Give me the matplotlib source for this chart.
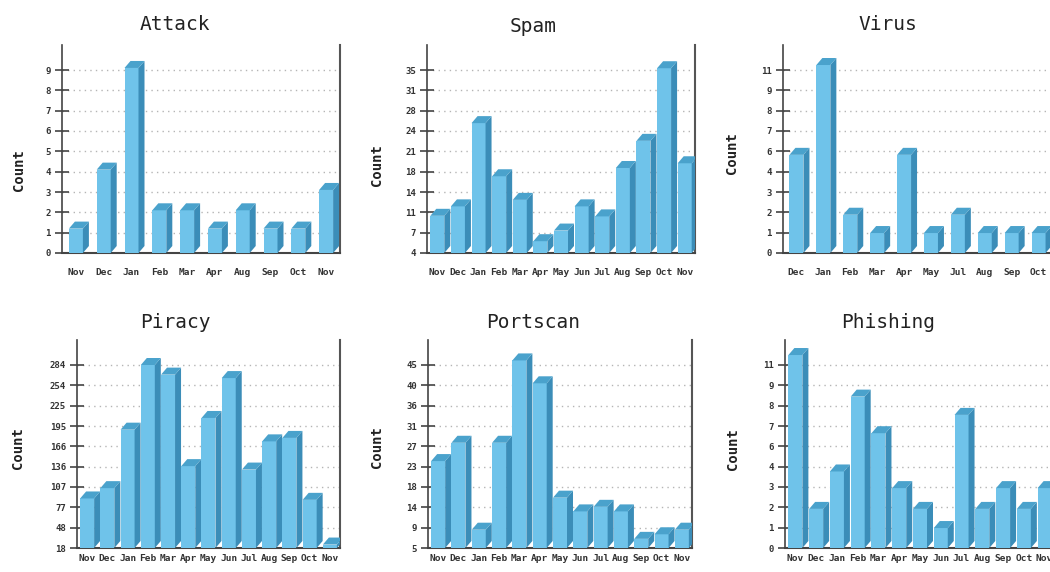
import numpy as np
import matplotlib
matplotlib.use("Agg")
import matplotlib.pyplot as plt
from matplotlib.patches import Polygon

W, H = 1050, 572

# ---------------- data ----------------
attack_months = ["Nov", "Dec", "Jan", "Feb", "Mar", "Apr", "Aug", "Sep", "Oct", "Nov"]
attack_values = [1.2, 4.1, 9.1, 2.1, 2.1, 1.2, 2.1, 1.2, 1.2, 3.1]
attack_ticks = ["0", "1", "2", "3", "4", "5", "6", "7", "8", "9"]

spam_months = ["Nov", "Dec", "Jan", "Feb", "Mar", "Apr", "May", "Jun", "Jul", "Aug", "Sep", "Oct", "Nov"]
spam_values = [10.3, 11.9, 26.0, 17.0, 13.0, 6.0, 7.8, 11.9, 10.2, 18.4, 23.0, 35.3, 19.2]
spam_ticks = ["4", "7", "11", "14", "18", "21", "24", "28", "31", "35"]

virus_months = ["Dec", "Jan", "Feb", "Mar", "Apr", "May", "Jul", "Aug", "Sep", "Oct"]
virus_values = [5.9, 11.3, 2.3, 1.2, 5.9, 1.2, 2.3, 1.2, 1.2, 1.2]
virus_ticks = ["0", "1", "2", "3", "4", "6", "7", "8", "9", "11"]

piracy_months = ["Nov", "Dec", "Jan", "Feb", "Mar", "Apr", "May", "Jun", "Jul", "Aug", "Sep", "Oct", "Nov"]
piracy_values = [90, 105, 190, 284, 270, 137, 207, 265, 132, 173, 178, 88, 23]
piracy_ticks = ["18", "48", "77", "107", "136", "166", "195", "225", "254", "284"]

portscan_months = ["Nov", "Dec", "Jan", "Feb", "Mar", "Apr", "May", "Jun", "Jul", "Aug", "Sep", "Oct", "Nov"]
portscan_values = [24, 28, 9, 28, 46, 41, 16, 13, 14, 13, 7, 8, 9]
portscan_ticks = ["5", "9", "14", "18", "23", "27", "31", "36", "40", "45"]

phishing_months = ["Nov", "Dec", "Jan", "Feb", "Mar", "Apr", "May", "Jun", "Jul", "Aug", "Sep", "Oct", "Nov"]
phishing_values = [11.6, 2.35, 4.6, 9.1, 6.9, 3.6, 2.35, 1.2, 8.0, 2.35, 3.6, 2.35, 3.6]
phishing_ticks = ["0", "1", "2", "3", "4", "6", "7", "8", "9", "11"]

# ---------------- style ----------------
FRONT = "#6fc3ea"
SIDE = "#3b8db8"
TOP = "#4aa2cc"
MONO = "DejaVu Sans Mono"

fig = plt.figure(figsize=(W / 100, H / 100), dpi=100)
fig.patch.set_facecolor("white")


def panel(box, title, title_xy, ylabel_xy, months, values, tick_labels, vmin, vmax, xpad):
    left, right, top, bottom = box
    ax = fig.add_axes([left / W, 1 - bottom / H, (right - left) / W, (bottom - top) / H])
    n = len(values)
    tick_span = 183.0
    ymax = vmin + (vmax - vmin) * (bottom - top) / tick_span
    ax.set_xlim(-0.5, n - 0.5)
    ax.set_ylim(vmin, ymax)
    ticks = np.linspace(vmin, vmax, len(tick_labels))
    ax.set_yticks(ticks)
    ax.set_yticklabels(tick_labels, fontsize=6.5, family=MONO, fontweight="bold", color="#333333")
    ax.set_xticks(np.arange(n))
    ax.set_xticklabels(months, fontsize=6.8, family=MONO, fontweight="bold", color="#333333")
    ax.tick_params(axis="x", length=0, pad=xpad)
    ax.tick_params(axis="y", direction="inout", length=10, width=1.2, color="#444444", pad=3)
    for t in ticks[1:]:
        ax.axhline(t, color="#b5b5b5", lw=1.0, ls=(0, (1, 3)), zorder=0)
    ax.spines["top"].set_visible(False)
    ax.spines["left"].set_color("#444444")
    ax.spines["right"].set_color("#555555")
    ax.spines["bottom"].set_color("#444444")
    ax.spines["left"].set_linewidth(1.2)
    ax.spines["right"].set_linewidth(1.5)
    ax.spines["bottom"].set_linewidth(1.5)

    pxx = (right - left) / n
    pxy = (bottom - top) / (ymax - vmin)
    w = 14.0 / pxx
    dx = 6.0 / pxx
    dy = 7.0 / pxy
    for i, v in enumerate(values):
        ax.bar(i, v - vmin, bottom=vmin, width=w, color=FRONT, edgecolor="none", zorder=3)
        xr = i + w / 2
        xl = i - w / 2
        side = Polygon([(xr, vmin), (xr + dx, vmin + dy), (xr + dx, v + dy), (xr, v)],
                       closed=True, facecolor=SIDE, edgecolor="none", zorder=3)
        cap = Polygon([(xl, v), (xr, v), (xr + dx, v + dy), (xl + dx, v + dy)],
                      closed=True, facecolor=TOP, edgecolor="none", zorder=3)
        ax.add_patch(side)
        ax.add_patch(cap)

    fig.text(title_xy[0] / W, 1 - title_xy[1] / H, title, ha="center", va="center",
             fontsize=14, family=MONO, color="#222222")
    fig.text(ylabel_xy[0] / W, 1 - ylabel_xy[1] / H, "Count", ha="center", va="center",
             rotation=90, fontsize=10, family=MONO, fontweight="bold", color="#222222")
    return ax


panel((62, 340, 45, 253), "Attack", (175, 25), (19, 170),
      attack_months, attack_values, attack_ticks, 0, 9, 11)
panel((427, 695, 45, 253), "Spam", (533, 26), (377, 165),
      spam_months, spam_values, spam_ticks, 4, 35, 11)
panel((783, 1052, 45, 253), "Virus", (888, 25), (732, 153),
      virus_months, virus_values, virus_ticks, 0, 11, 11)
panel((77, 340, 340, 548), "Piracy", (175, 322), (18, 448),
      piracy_months, piracy_values, piracy_ticks, 18, 284, 4)
panel((428, 692, 340, 548), "Portscan", (533, 322), (377, 447),
      portscan_months, portscan_values, portscan_ticks, 5, 45, 4)
panel((785, 1055, 340, 548), "Phishing", (888, 322), (733, 449),
      phishing_months, phishing_values, phishing_ticks, 0, 11, 4)

fig.savefig("out.png", dpi=100, facecolor="white")
